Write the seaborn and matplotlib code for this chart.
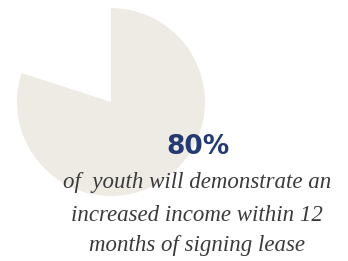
import matplotlib
matplotlib.use("Agg")
import matplotlib.pyplot as plt
import seaborn as sns

sns.set_theme(style="white")

shares = [20, 80]
slice_colors = ["none", "#EEEBE5"]
headline = "80%"
caption_lines = [
    "of  youth will demonstrate an",
    "increased income within 12",
    "months of signing lease",
]

fig = plt.figure(figsize=(3.48, 2.61), dpi=100)
fig.patch.set_facecolor("white")
ax = fig.add_axes([0.0489, 0.249, 0.540, 0.720])
ax.pie(shares, colors=slice_colors, startangle=90, counterclock=True,
       radius=1, wedgeprops=dict(linewidth=0))
ax.set_xlim(-1, 1)
ax.set_ylim(-1, 1)
ax.set_aspect("equal")
ax.axis("off")

fig.text(0.569, 0.437, headline, ha="center", va="center",
         fontsize=19, fontweight="bold", color="#243A73", family=["DejaVu Sans"])
ys = [0.299, 0.176, 0.061]
for y, line in zip(ys, caption_lines):
    fig.text(0.566, y, line, ha="center", va="center", fontsize=16.5,
             style="italic", color="#3A3A3A", family=["Liberation Serif", "DejaVu Serif"])

fig.savefig("out.png", dpi=100, facecolor="white")
